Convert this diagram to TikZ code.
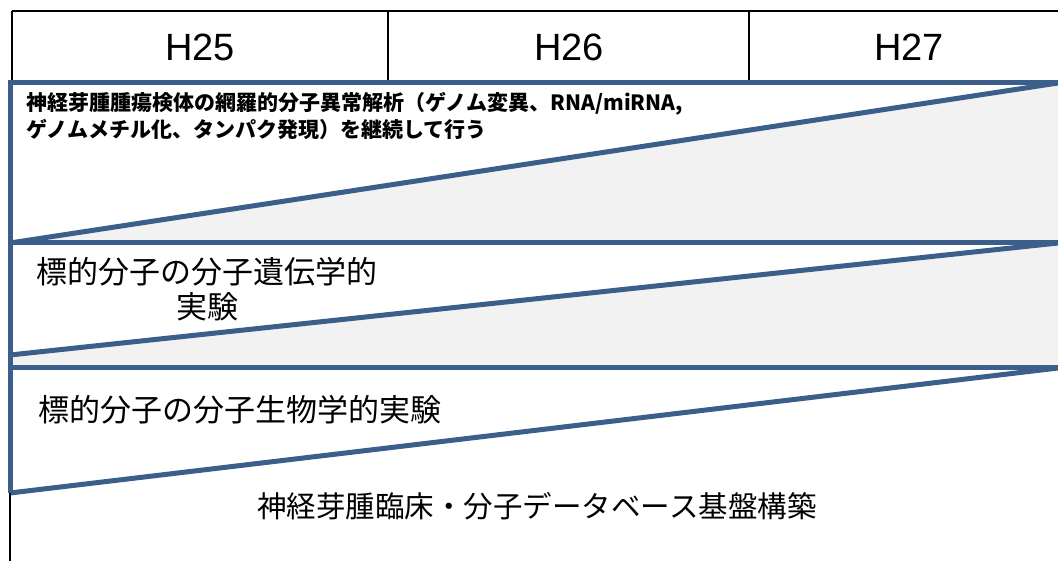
\documentclass[tikz,border=0pt]{standalone}
\usepackage{fontspec}
\setmainfont{Liberation Sans}
\newfontfamily\jp{Noto Sans CJK JP}
\definecolor{bandblue}{RGB}{59,94,138}
\definecolor{bandgray}{RGB}{242,242,242}
\tikzset{
  gridline/.style={draw=black, line width=1.4pt},
  bandline/.style={draw=bandblue, line width=5pt, line cap=butt},
  bandfill/.style={fill=bandgray, draw=none},
  yearlabel/.style={font=\fontsize{38}{44}\selectfont, inner sep=0pt},
  boldlabel/.style={font=\jp\bfseries\fontsize{21}{27}\selectfont, inner sep=0pt, align=left, anchor=base west},
  textlabel/.style={font=\jp\fontsize{31}{35}\selectfont, inner sep=0pt},
}
\begin{document}
\begin{tikzpicture}[x=1pt,y=-1pt]
\useasboundingbox (0,0) rectangle (1058,561);
% coordinates
\coordinate (TL) at (12,11);
\coordinate (TR) at (1058,11);
\coordinate (D1) at (388,11);
\coordinate (D2) at (749,11);
\coordinate (D1b) at (388,82);
\coordinate (D2b) at (749,82);
\coordinate (L0) at (10,83);
\coordinate (R0) at (1058,83);
\coordinate (L1) at (10,243);
\coordinate (R1) at (1058,243);
\coordinate (L2d) at (10,355);
\coordinate (L2) at (10,368);
\coordinate (R2) at (1058,368);
\coordinate (L3d) at (10,493);
\coordinate (Lend) at (10,561);
% fills
\fill[bandfill] (L1) -- (R0) -- (R1) -- cycle;
\fill[bandfill] (L2d) -- (R1) -- (R2) -- (L2) -- cycle;
% header grid
\draw[gridline] (TL) -- (TR);
\draw[gridline] (TL) -- (12,82);
\draw[gridline] (D1) -- (D1b);
\draw[gridline] (D2) -- (D2b);
% band lines
\draw[bandline] (7.5,83) -- (R0);
\draw[bandline] (L1) -- (R1);
\draw[bandline] (L2) -- (R2);
\draw[bandline] (L1) -- (R0);
\draw[bandline] (L2d) -- (R1);
\draw[bandline] (L3d) -- (R2);
\draw[bandline] (10,80.5) -- (L3d);
\draw[gridline] (L3d) -- (Lend);
% labels
\node[yearlabel] (h25) at (200,47) {H25};
\node[yearlabel] (h26) at (569,47) {H26};
\node[yearlabel] (h27) at (909,47) {H27};
\node[boldlabel] (t1) at (26,138) {神経芽腫腫瘍検体の網羅的分子異常解析（ゲノム変異、RNA/miRNA,\\ゲノムメチル化、タンパク発現）を継続して行う};
\node[textlabel, align=center, anchor=base] (t2) at (207,319) {標的分子の分子遺伝学的\\実験};
\node[textlabel, anchor=base west] (t3) at (38,421) {標的分子の分子生物学的実験};
\node[textlabel, font=\jp\fontsize{29.5}{35}\selectfont, anchor=base] (t4) at (537,517) {神経芽腫臨床・分子データベース基盤構築};
\end{tikzpicture}
\end{document}
